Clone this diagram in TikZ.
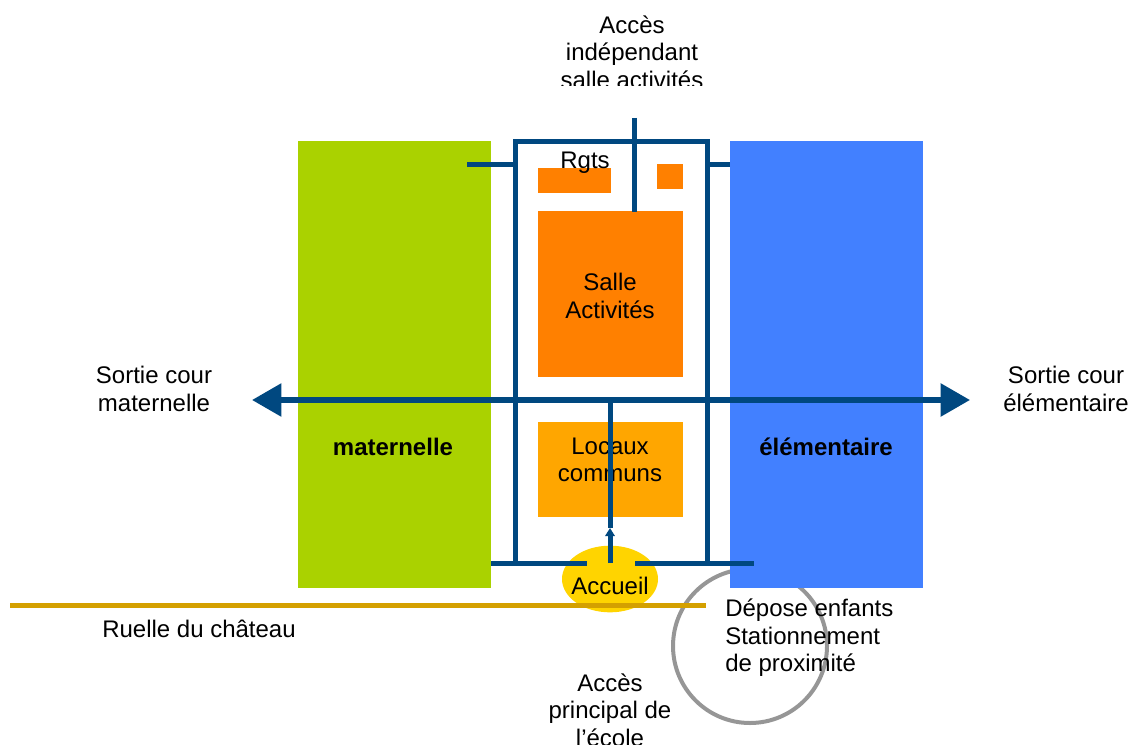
\documentclass[tikz,border=0pt]{standalone}
\usepackage{fontspec}
\setmainfont{Liberation Sans}
\usetikzlibrary{arrows.meta}
\definecolor{materC}{RGB}{170,210,0}
\definecolor{elemC}{RGB}{66,128,255}
\definecolor{voie}{RGB}{0,72,128}
\definecolor{salleC}{RGB}{255,128,0}
\definecolor{locauxC}{RGB}{255,166,0}
\definecolor{accueilC}{RGB}{255,212,0}
\definecolor{ruelleC}{RGB}{212,160,0}
\definecolor{deposeC}{RGB}{150,150,150}
\tikzset{
  txt/.style={align=center, inner sep=0pt, font=\fontsize{18}{20.6}\selectfont},
  voieline/.style={draw=voie, line width=3.75pt},
  bigtip/.style={-{Triangle[length=22pt,width=24pt]}}
}
\begin{document}
\begin{tikzpicture}[x=0.75pt,y=-0.75pt]
            \useasboundingbox (0,0) rectangle (1130,745);
            \draw[deposeC, line width=3pt] (750,646) circle [radius=57.75pt];
            \fill[materC] (298,141) rectangle (491,588);
            \fill[elemC] (730,141) rectangle (923,588);
            \fill[salleC] (538,168) rectangle (611,193);
            \fill[salleC] (657,164) rectangle (683,189);
            \fill[salleC] (538,211) rectangle (683,377);
            \fill[locauxC] (538,422) rectangle (683,517);
            \fill[accueilC] (610,579) ellipse [x radius=36pt, y radius=25pt];
            \coordinate (tl) at (515,142);
            \coordinate (tr) at (707,142);
            \coordinate (bl) at (515,563);
            \coordinate (br) at (707,563);
            \draw[voieline, line cap=rect] (bl) -- (tl) -- (tr) -- (br);
            \draw[voieline] (467,165) -- (515,165);
            \draw[voieline] (707,165) -- (730,165);
            \draw[voieline] (634,118) -- (634,212);
            \draw[voieline] (491,563) -- (587,563);
            \draw[voieline] (635,563) -- (754,563);
            \draw[voieline] (610,528) -- (610,400);
            \draw[voieline, -{Triangle[length=6pt,width=7pt]}] (610,563) -- (610,528);
            \draw[voieline, line width=4.2pt, bigtip] (610,400) -- (252,400);
            \draw[voieline, line width=4.2pt, bigtip] (610,400) -- (970,400);
            \draw[ruelleC, line width=3.75pt] (10,605) -- (706,605);
            \begin{scope}
                \clip (480,0) rectangle (780,86);
                \node[txt] (acces-salle) at (632,52) {Accès\\indépendant\\salle activités};
            \end{scope}
            \node[txt] (rgts) at (585,163) {Rgts};
            \node[txt] (salle) at (610,296) {Salle\\Activités};
            \node[txt] (sortie-mat) at (154,389) {Sortie cour\\maternelle};
            \node[txt] (sortie-elem) at (1066,389) {Sortie cour\\élémentaire};
            \node[txt, font=\fontsize{18}{20.6}\selectfont\bfseries] (maternelle) at (393,447) {maternelle};
            \node[txt, font=\fontsize{18}{20.6}\selectfont\bfseries] (elementaire) at (826,447) {élémentaire};
            \node[txt] (locaux) at (610,460) {Locaux\\communs};
            \draw[voieline] (610,430) -- (610,500);
            \node[txt] (accueil) at (610,586) {Accueil};
            \node[txt, anchor=west] (ruelle) at (102,629) {Ruelle du château};
            \node[txt, align=left, anchor=west] (depose) at (725,638) {Dépose enfants\\Stationnement\\de proximité};
            \node[txt] (acces-principal) at (610,710) {Accès\\principal de\\l’école};
        \end{tikzpicture}
\end{document}
